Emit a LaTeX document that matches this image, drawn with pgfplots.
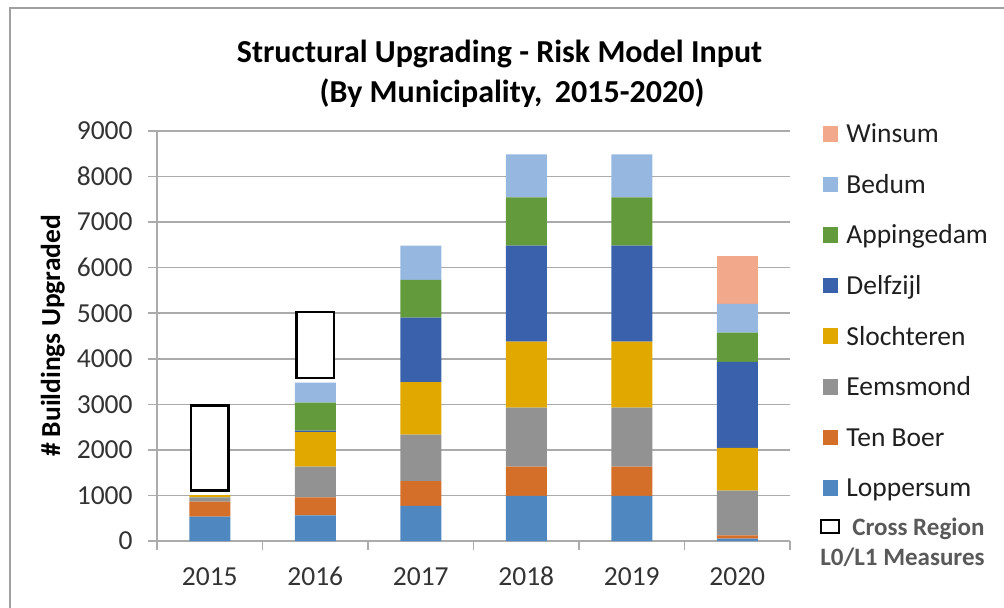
\documentclass[border=0pt]{standalone}
\usepackage{pgfplots}
\pgfplotsset{compat=1.18}
\usepackage{fontspec}
\setmainfont{Carlito}
\definecolor{cLop}{HTML}{4F88C0}
\definecolor{cTen}{HTML}{D46F2A}
\definecolor{cEem}{HTML}{929292}
\definecolor{cSlo}{HTML}{E1A900}
\definecolor{cDel}{HTML}{3A62AC}
\definecolor{cApp}{HTML}{629A3C}
\definecolor{cBed}{HTML}{96B8E0}
\definecolor{cWin}{HTML}{F2A88A}
\definecolor{gridc}{HTML}{ABABAB}
\definecolor{tickc}{HTML}{333333}
\definecolor{crossc}{HTML}{595959}
\definecolor{borderc}{HTML}{A0A0A0}
\begin{document}
\begin{tikzpicture}
\useasboundingbox (0,0) rectangle (502pt,303.5pt);
\draw[borderc, line width=0.8pt] (5pt,-2pt) -- (5pt,299.5pt) -- (505pt,299.5pt);
\begin{axis}[
  at={(78.5pt,33pt)}, anchor=south west,
  scale only axis, width=316.5pt, height=205pt,
  ybar stacked, bar width=20.5pt,
  xmin=-0.5, xmax=5.5, ymin=0, ymax=9000,
  axis lines*=left,
  axis line style={draw=gridc, line width=0.75pt},
  ymajorgrids, grid style={draw=gridc, line width=0.75pt},
  ytick={0,1000,...,9000},
  xtick={-0.5,0.5,1.5,2.5,3.5,4.5,5.5}, xticklabels={},
  extra x ticks={0,1,2,3,4,5},
  extra x tick labels={2015,2016,2017,2018,2019,2020},
  extra x tick style={major tick length=0pt, grid=none, xticklabel style={anchor=base, yshift=-22pt}},
  tick align=outside, major tick length=4.5pt,
  tick style={draw=gridc, line width=0.75pt},
  yticklabel style={anchor=east, inner sep=0pt, xshift=-7.5pt},
  tick label style={font=\fontsize{13.75}{16}\selectfont, text=tickc},
  /pgf/number format/assume math mode=true,
  /pgf/number format/set thousands separator={},
  clip=false,
]
\addplot[fill=cLop, draw=none] coordinates {(0,535) (1,565) (2,770) (3,990) (4,990) (5,50)};
\addplot[fill=cTen, draw=none] coordinates {(0,330) (1,395) (2,543) (3,643) (4,643) (5,75)};
\addplot[fill=cEem, draw=none] coordinates {(0,95) (1,672) (2,1023) (3,1296) (4,1296) (5,980)};
\addplot[fill=cSlo, draw=none] coordinates {(0,50) (1,756) (2,1151) (3,1450) (4,1450) (5,938)};
\addplot[fill=cDel, draw=none] coordinates {(0,0) (1,35) (2,1419) (3,2103) (4,2103) (5,1889)};
\addplot[fill=cApp, draw=none] coordinates {(0,0) (1,615) (2,829) (3,1061) (4,1061) (5,644)};
\addplot[fill=cBed, draw=none] coordinates {(0,0) (1,439) (2,747) (3,945) (4,945) (5,631)};
\addplot[fill=cWin, draw=none] coordinates {(0,0) (1,0) (2,0) (3,0) (4,0) (5,1039)};
\addplot[fill=none, draw=none] coordinates {(0,93) (1,101)};
\addplot[fill=white, draw=black, line width=1.3pt, bar width=18.8pt] coordinates {(0,1866) (1,1448)};
\end{axis}
% title
\node[anchor=base, font=\bfseries\fontsize{16}{19}\selectfont] at (249.75pt,272.5pt) {Structural Upgrading - Risk Model Input};
\node[anchor=base, font=\bfseries\fontsize{16}{19}\selectfont] at (256pt,252.5pt) {(By Municipality,\, 2015-2020)};
% y label
\node[rotate=90, anchor=base, font=\bfseries\fontsize{13.75}{16}\selectfont] at (30pt,135.5pt) {\# Buildings Upgraded};
% legend
\foreach \c/\t/\y in {cWin/Winsum/236.6, cBed/Bedum/211.3, cApp/Appingedam/186, cDel/Delfzijl/160.7, cSlo/Slochteren/135.4, cEem/Eemsmond/110.1, cTen/Ten Boer/84.8, cLop/Loppersum/59.5}{
  \fill[\c] (411.35pt,\y pt-3.9pt) rectangle ++(7.8pt,7.8pt);
  \node[anchor=west, inner sep=0pt, text height=8.9pt, text depth=0pt, font=\fontsize{13.75}{16}\selectfont, text=black!88] at (423pt,\y pt) {\t};
}
\draw[black, line width=1pt] (410.5pt,36.85pt) rectangle (419.5pt,43.35pt);
\node[anchor=west, inner sep=0pt, text height=8.05pt, text depth=0pt, font=\bfseries\fontsize{12.5}{15}\selectfont, text=crossc] at (426pt,40pt) {Cross Region};
\node[anchor=west, inner sep=0pt, text height=8.05pt, text depth=0pt, font=\bfseries\fontsize{12.5}{15}\selectfont, text=crossc] at (410pt,24.75pt) {L0/L1 Measures};
\end{tikzpicture}
\end{document}
